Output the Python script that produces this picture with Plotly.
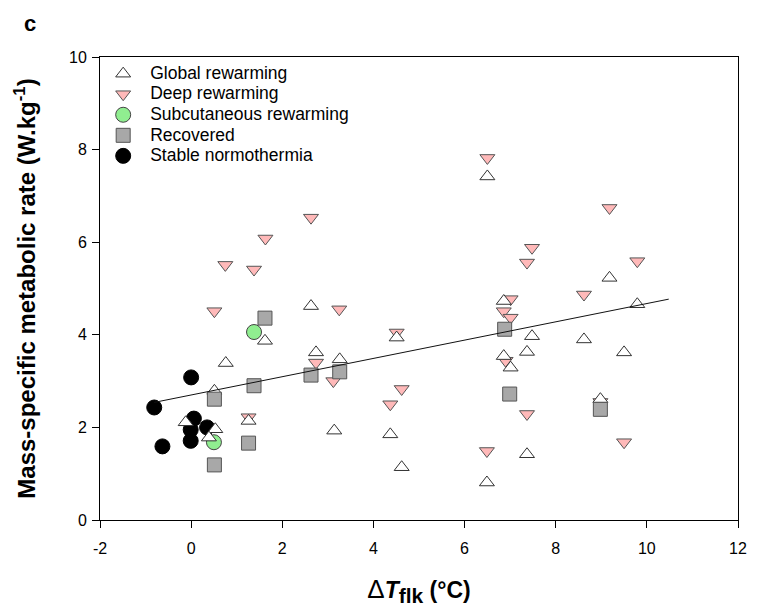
import plotly.graph_objects as go

# ---- data ----
global_x = [2.63, 1.62, 0.76, 2.74, 3.26, -0.12, 0.53, 0.39, 0.51, 1.26, 3.14, 4.37, 4.51,
            6.50, 9.18, 9.79, 6.86, 7.48, 8.62, 9.50, 7.37, 6.86, 7.01, 8.98, 4.62, 7.37, 6.49]
global_y = [4.62, 3.87, 3.39, 3.62, 3.47, 2.11, 1.96, 1.78, 2.79, 2.14, 1.93, 1.85, 3.94,
            7.42, 5.23, 4.66, 4.73, 3.97, 3.90, 3.62, 3.63, 3.54, 3.29, 2.61, 1.14, 1.42, 0.81]

deep_x = [2.63, 1.63, 0.75, 1.38, 0.51, 3.25, 2.74, 3.12, 1.26, 4.37, 4.62, 4.51, 6.50,
          9.18, 7.48, 7.37, 9.79, 8.62, 7.01, 6.86, 7.01, 6.90, 8.98, 7.37, 6.49, 9.50]
deep_y = [6.53, 6.08, 5.51, 5.41, 4.51, 4.55, 3.40, 3.00, 2.22, 2.50, 2.83, 4.05, 7.82,
          6.74, 5.88, 5.56, 5.59, 4.87, 4.77, 4.51, 4.37, 3.44, 2.55, 2.29, 1.49, 1.68]

subcut_x = [1.38, 0.50]
subcut_y = [4.06, 1.68]

recovered_x = [1.62, 6.88, 3.26, 2.63, 1.38, 0.51, 1.26, 0.51, 6.99, 8.98]
recovered_y = [4.36, 4.12, 3.20, 3.13, 2.90, 2.61, 1.66, 1.19, 2.72, 2.39]

stable_x = [0.00, -0.81, 0.06, 0.35, -0.01, -0.01, -0.63]
stable_y = [3.08, 2.43, 2.19, 2.00, 1.95, 1.71, 1.59]

fit_x = [-0.81, 10.48]
fit_y = [2.54, 4.77]

x_ticks = [-2, 0, 2, 4, 6, 8, 10, 12]
y_ticks = [0, 2, 4, 6, 8, 10]

FONT = "Liberation Sans, Arial, sans-serif"


def leg(name):
    return f"<span style='font-size:17.5px'>{name}</span>"


fig = go.Figure()

fig.add_trace(go.Scatter(
    x=deep_x, y=deep_y, mode="markers", name=leg("Deep rewarming"), legendrank=2,
    marker=dict(symbol="triangle-down", size=13, color="#FFB9B9",
                line=dict(color="#555555", width=1))))
fig.add_trace(go.Scatter(
    x=subcut_x, y=subcut_y, mode="markers", name=leg("Subcutaneous rewarming"), legendrank=3,
    marker=dict(symbol="circle", size=15, color="#90EE90",
                line=dict(color="#444444", width=1))))
fig.add_trace(go.Scatter(
    x=stable_x, y=stable_y, mode="markers", name=leg("Stable normothermia"), legendrank=5,
    marker=dict(symbol="circle", size=15, color="#000000",
                line=dict(color="#000000", width=1))))
fig.add_trace(go.Scatter(
    x=global_x, y=global_y, mode="markers", name=leg("Global rewarming"), legendrank=1,
    marker=dict(symbol="triangle-up", size=13, color="#FFFFFF",
                line=dict(color="#333333", width=1))))
fig.add_trace(go.Scatter(
    x=recovered_x, y=recovered_y, mode="markers", name=leg("Recovered"), legendrank=4,
    marker=dict(symbol="square", size=14, color="#A8A8A8",
                line=dict(color="#555555", width=1))))
fig.add_trace(go.Scatter(
    x=fit_x, y=fit_y, mode="lines", showlegend=False,
    line=dict(color="#111111", width=1)))

# page body adds an 8 px offset; size/margins compensate
fig.update_layout(
    width=751, height=602,
    margin=dict(l=92, r=14, t=49, b=89),
    paper_bgcolor="white", plot_bgcolor="white",
    font=dict(family=FONT, size=16, color="black"),
    showlegend=True,
    legend=dict(x=-0.006, y=0.997, xanchor="left", yanchor="top",
                bgcolor="rgba(0,0,0,0)", borderwidth=0,
                font=dict(family=FONT, size=13.5, color="black"),
                itemwidth=44, tracegroupgap=0),
    xaxis=dict(range=[-2, 12], tickvals=x_ticks, ticktext=[str(v) for v in x_ticks],
               showgrid=False, zeroline=False, showline=True, linecolor="black",
               linewidth=1, mirror=True, ticks="outside", ticklen=7, tickcolor="black",
               ticklabelstandoff=7,
               tickfont=dict(family=FONT, size=16),
               title=dict(text="<span style='font-size:26px'>Δ</span><b><i>T</i><sub><span style='font-size:21px'>flk</span></sub> (°C)</b>",
                          font=dict(family=FONT, size=23), standoff=25)),
    yaxis=dict(range=[0, 10], tickvals=y_ticks, ticktext=[str(v) for v in y_ticks],
               showgrid=False, zeroline=False, showline=True, linecolor="black",
               linewidth=1, mirror=True, ticks="outside", ticklen=7, tickcolor="black",
               ticklabelstandoff=2,
               tickfont=dict(family=FONT, size=16),
               title=dict(text="<b>Mass-specific metabolic rate (W.kg<sup>-1</sup>)</b>",
                          font=dict(family=FONT, size=24), standoff=26)),
    annotations=[dict(text="<b>c</b>", x=-0.11, y=1.104, xref="paper", yref="paper",
                      xanchor="center", yanchor="top", showarrow=False,
                      font=dict(family=FONT, size=22, color="black"))],
)

fig.write_html("out.html")
